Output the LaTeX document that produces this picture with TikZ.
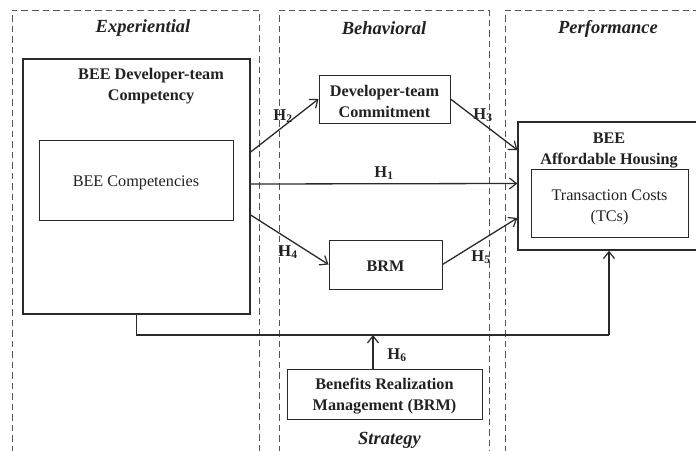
\documentclass[tikz,border=0pt]{standalone}
\usepackage{fontspec}
\setmainfont{Liberation Serif}
\usetikzlibrary{arrows.meta,positioning,calc}

\definecolor{linecol}{HTML}{2A2A2A}
\definecolor{dashcol}{HTML}{555555}
\definecolor{txtcol}{HTML}{222222}

\tikzset{
  panel/.style={draw=dashcol, line width=0.8pt, dash pattern=on 6.5pt off 4pt},
  box/.style={draw=linecol, line width=1.3pt, rectangle, inner sep=0pt, text=txtcol, align=center},
  thinbox/.style={draw=linecol, line width=1pt, rectangle, inner sep=0pt, text=txtcol, align=center},
  boxtext/.style={font=\fontsize{16.2}{21}\selectfont\bfseries, text=txtcol, align=center, inner sep=0pt},
  plaintext/.style={font=\fontsize{16.2}{21.5}\selectfont, text=txtcol, align=center, inner sep=0pt},
  paneltitle/.style={font=\fontsize{18.5}{21}\selectfont\bfseries\itshape, text=txtcol, inner sep=0pt},
  hyp/.style={font=\fontsize{16.5}{19}\selectfont\bfseries, text=txtcol, inner sep=0pt},
  link/.style={draw=linecol, line width=1.3pt, -{Straight Barb[length=7pt,width=11pt,line width=1.2pt]}},
  plainlink/.style={draw=linecol, line width=1.3pt}
}

\begin{document}
\begin{tikzpicture}[x=1pt, y=-1pt]
  \useasboundingbox (0,0) rectangle (696,450);
  \clip (0,0) rectangle (696,450);
  \fill[white] (0,0) rectangle (696,450);

  % dashed columns, open at the bottom
  \draw[panel] (12,452) -- (12,10) -- (259,10) -- (259,452);
  \draw[panel] (279,452) -- (279,10) -- (489,10) -- (489,452);
  \draw[panel] (505,452) -- (505,10) -- (700,10);

  % column titles
  \node[paneltitle] (texp) at (143,28.5) {Experiential};
  \node[paneltitle] (tbeh) at (384,28.5) {Behavioral};
  \node[paneltitle] (tperf) at (608,28.5) {Performance};
  \node[paneltitle] (tstr) at (389.5,440) {Strategy};

  % experiential construct
  \node[box, minimum width=227pt, minimum height=255pt] (devcomp) at (136.5,186.5) {};
  \node[boxtext] (devcomptitle) at (151,86) {BEE Developer-team\\Competency};
  \node[thinbox, plaintext, minimum width=194pt, minimum height=80pt] (comp) at (136,180) {};
  \node[plaintext] (comptext) at (136,183) {BEE Competencies};

  % behavioral constructs
  \node[thinbox, minimum width=131pt, minimum height=48pt] (commit) at (384.5,99) {};
  \node[boxtext] (committext) at (384.5,101.5) {Developer-team\\Commitment};
  \node[thinbox, minimum width=113pt, minimum height=49pt] (brm) at (385.5,264.5) {};
  \node[boxtext] (brmtext) at (385.5,266) {BRM};

  % performance construct
  \node[box, minimum width=182pt, minimum height=128pt] (housing) at (609,186) {};
  \node[boxtext] (housingtitle) at (609,150) {BEE\\Affordable Housing};
  \node[thinbox, minimum width=157pt, minimum height=68pt] (tc) at (609.5,203) {};
  \node[plaintext] (tctext) at (609.5,207.5) {Transaction Costs\\(TCs)};

  % strategy construct
  \node[thinbox, minimum width=195pt, minimum height=50pt] (mgmt) at (384.5,394) {};
  \node[boxtext] (mgmttext) at (384.5,396.5) {Benefits Realization\\Management (BRM)};

  % hypothesised paths
  \draw[link] ([yshift=34.5pt]devcomp.east) -- (commit.west);
  \draw[link] ([yshift=2.5pt]devcomp.east) -- ([yshift=2.5pt]housing.west);
  \draw[link] ([yshift=-28.5pt]devcomp.east) -- (brm.west);
  \draw[link] (commit.east) -- ([yshift=36pt]housing.west);
  \draw[link] (brm.east) -- ([yshift=-32pt]housing.west);

  % moderated path along the bottom
  \coordinate (bend1) at (136.5,335);
  \coordinate (bend2) at (609,335);
  \draw[plainlink] (devcomp.south) -- (bend1) -- (bend2);
  \draw[link] (bend2) -- (housing.south);
  \coordinate (h6top) at (373,335);
  \draw[link] ([xshift=-11.5pt]mgmt.north) -- (h6top);

  % hypothesis labels
  \node[hyp] (h1) at (384,173) {H$_{\mathbf{1}}$};
  \node[hyp] (h2) at (283,116) {H$_{\mathbf{2}}$};
  \node[hyp] (h3) at (483,115) {H$_{\mathbf{3}}$};
  \node[hyp] (h4) at (288,252) {H$_{\mathbf{4}}$};
  \node[hyp] (h5) at (481,257) {H$_{\mathbf{5}}$};
  \node[hyp] (h6) at (397,355) {H$_{\mathbf{6}}$};
\end{tikzpicture}
\end{document}
